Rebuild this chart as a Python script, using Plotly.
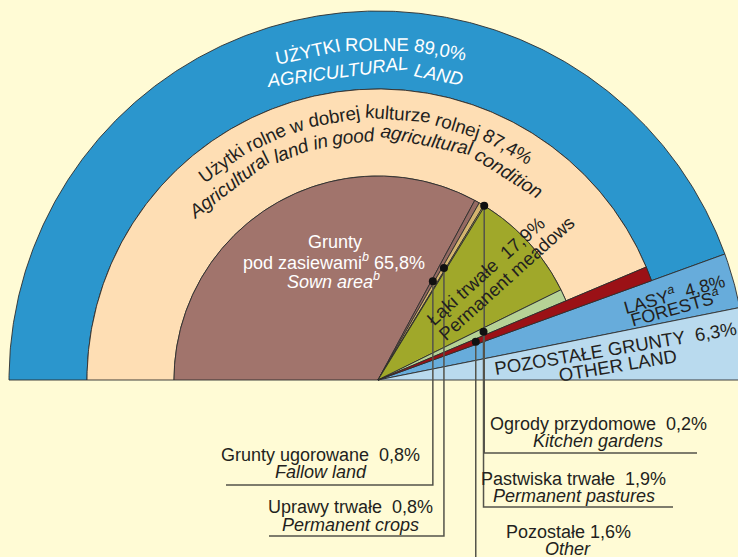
import math
import plotly.graph_objects as go

# ---------------- data ----------------
outer_labels = ["Użytki rolne", "Lasy", "Pozostałe grunty"]
outer_values = [89.0, 4.8, 6.3]
good_condition_value = 87.4
inner_labels = ["Grunty pod zasiewami", "Grunty ugorowane", "Uprawy trwałe",
                "Ogrody przydomowe", "Łąki trwałe", "Pastwiska trwałe", "Pozostałe"]
inner_values = [65.8, 0.8, 0.8, 0.2, 17.9, 1.9, 1.6]

# ---------------- geometry / style ----------------
CX, CY = 378, 380          # pixel centre of the half-pie
R_OUT, R_AG, R_IN = 369, 291, 204
BG = "#FFFBD5"
EDGE = "#2E2E2E"
FONT = "Liberation Sans, Arial, Helvetica, sans-serif"
INK = "#231F20"

outer_colors = ["#2B96CD", "#67ACDB", "#B9DAEE"]
good_color = "#FEDEB4"
inner_colors = ["#A1746C", "#946A62", "#D4B46E", "#C4BB58", "#A0A82A", "#B6D296", "#9B1116"]

K = 180.0 / sum(outer_values)


def px(x, y):
    return x - CX, CY - y


def sector(r0, r1, a0, a1):
    lo, hi = min(a0, a1), max(a0, a1)
    n = max(6, int((hi - lo) * 3))
    xs, ys = [], []
    for i in range(n + 1):
        t = math.radians(lo + (hi - lo) * i / n)
        xs.append(r1 * math.cos(t)); ys.append(r1 * math.sin(t))
    if r0 > 0:
        for i in range(n, -1, -1):
            t = math.radians(lo + (hi - lo) * i / n)
            xs.append(r0 * math.cos(t)); ys.append(r0 * math.sin(t))
    else:
        xs.append(0); ys.append(0)
    xs.append(xs[0]); ys.append(ys[0])
    return xs, ys


fig = go.Figure()


def add_sector(r0, r1, a0, a1, color, name):
    xs, ys = sector(r0, r1, a0, a1)
    fig.add_trace(go.Scatter(x=xs, y=ys, mode="lines", fill="toself", fillcolor=color,
                             line=dict(color=EDGE, width=0.9), name=name,
                             hoverinfo="name", showlegend=False))


# outer level
a_agri_end = 180 - outer_values[0] * K
a_for_end = a_agri_end - outer_values[1] * K
a_good_end = 180 - good_condition_value * K
add_sector(R_AG, R_OUT, a_agri_end, 180, outer_colors[0], outer_labels[0])
add_sector(0, R_OUT, a_for_end, a_agri_end, outer_colors[1], outer_labels[1])
add_sector(0, R_OUT, a_for_end - outer_values[2] * K, a_for_end, outer_colors[2], outer_labels[2])
add_sector(R_IN, R_AG, a_good_end, 180, good_color, "Użytki rolne w dobrej kulturze rolnej")

# inner level
inner_angles = []
a = 180.0
for lab, v, col in zip(inner_labels, inner_values, inner_colors):
    a1 = a - v * K
    r = R_AG if lab == "Pozostałe" else R_IN
    add_sector(0, r, a1, a, col, lab)
    inner_angles.append((a1 + a) / 2)
    a = a1

# ---------------- leader lines ----------------
LINE = "#54534A"
# (inner index, dot radius, corner y px, far end x px)
leaders = [
    (1, 113, 485, 226),
    (2, 130, 536, 269),
    (3, 204, 453, 697),
    (5, 116, 507, 673),
    (6, 105, 575, None),
]
dots_x, dots_y = [], []
for idx, rr, ypx, xend in leaders:
    t = math.radians(inner_angles[idx])
    dx, dy = rr * math.cos(t), rr * math.sin(t)
    dots_x.append(dx); dots_y.append(dy)
    yy = CY - ypx
    xs = [dx, dx]
    ys = [dy, yy]
    if xend is not None:
        xs.append(xend - CX); ys.append(yy)
    fig.add_trace(go.Scatter(x=xs, y=ys, mode="lines", line=dict(color=LINE, width=1.5),
                             hoverinfo="skip", showlegend=False))
fig.add_trace(go.Scatter(x=dots_x, y=dots_y, mode="markers",
                         marker=dict(color="#111111", size=8), hoverinfo="skip", showlegend=False))

# ---------------- text ----------------
W = {' ': 278, '%': 889, ',': 278, '.': 278,
     'A': 667, 'B': 667, 'C': 722, 'D': 722, 'E': 667, 'F': 611, 'G': 778, 'H': 722, 'I': 278,
     'J': 500, 'K': 667, 'L': 556, 'M': 833, 'N': 722, 'O': 778, 'P': 667, 'Q': 778, 'R': 722,
     'S': 667, 'T': 611, 'U': 722, 'V': 667, 'W': 944, 'X': 667, 'Y': 667, 'Z': 611, 'Ż': 611,
     'Ł': 556, 'a': 556, 'b': 556, 'c': 500, 'd': 556, 'e': 556, 'f': 278, 'g': 556, 'h': 556,
     'i': 222, 'j': 222, 'k': 500, 'l': 222, 'm': 833, 'n': 556, 'o': 556, 'p': 556, 'q': 556,
     'r': 333, 's': 500, 't': 278, 'u': 556, 'v': 500, 'w': 722, 'x': 500, 'y': 500, 'z': 500,
     'ż': 500, 'ł': 222, 'ą': 556}


def tw(s, size):
    return sum(W.get(c, 556) for c in s) * size / 1000.0


annotations = []


def ann(x, y, text, size=18, color=INK, angle=0):
    X, Y = px(x, y)
    annotations.append(dict(x=X, y=Y, xref="x", yref="y", text=text, showarrow=False,
                            textangle=angle, xanchor="center", yanchor="middle",
                            font=dict(family=FONT, size=size, color=color)))


def arc_text(text, r, theta_c, size, color, italic=False):
    parts = text.split(' ')
    sp = tw(' ', size)
    total = tw(text, size)
    s = 0.0
    for p in parts:
        if p == '':
            s += sp
            continue
        w = tw(p, size)
        mid = s + w / 2
        th = theta_c + math.degrees((total / 2 - mid) / r)
        t = math.radians(th)
        txt = f"<i>{p}</i>" if italic else p
        annotations.append(dict(x=r * math.cos(t), y=r * math.sin(t), xref="x", yref="y",
                                text=txt, showarrow=False, textangle=90 - th,
                                xanchor="center", yanchor="middle",
                                font=dict(family=FONT, size=size, color=color)))
        s += w + sp


arc_text("UŻYTKI ROLNE 89,0%", 336, 91.3, 18.5, "white")
arc_text("AGRICULTURAL LAND", 311, 92.4, 18.5, "white", italic=True)
arc_text("Użytki rolne w dobrej kulturze rolnej 87,4%", 267, 93.3, 18.8, INK)
arc_text("Agricultural land in good agricultural condition", 245, 93.5, 19, INK, italic=True)

NB = "\u00a0"
ann(335, 242, "Grunty", color="white")
ann(334, 261, "pod zasiewami<sup><i>b</i></sup> 65,8%", color="white")
ann(333, 280, "<i>Sown area</i><sup><i>b</i></sup>", color="white")

ann(485, 271, f"Łąki trwałe {NB}17,9%", size=18.5, angle=-42)
ann(506, 278, "Permanent meadows", size=18.5, angle=-42)

ann(674, 293, f"LASY<sup><i>a</i></sup>{NB} 4,8%", angle=-15.5)
ann(675, 307, "FORESTS<sup><i>a</i></sup>", angle=-15.5)

ann(615, 348, f"POZOSTAŁE GRUNTY {NB}6,3%", size=18.5, angle=-9.5)
ann(617, 365, "OTHER LAND", size=18.5, angle=-9.5)

ann(320, 455, f"Grunty ugorowane {NB}0,8%")
ann(321, 472, "<i>Fallow land</i>")
ann(350, 507, f"Uprawy trwałe {NB}0,8%")
ann(350, 525, "<i>Permanent crops</i>")
ann(598, 424, f"Ogrody przydomowe {NB}0,2%")
ann(598, 441, "<i>Kitchen gardens</i>")
ann(573, 479, f"Pastwiska trwałe {NB}1,9%")
ann(574, 496, "<i>Permanent pastures</i>")
ann(568, 532, "Pozostałe 1,6%")
ann(568, 549, "<i>Other</i>")

fig.update_layout(
    width=738, height=557, margin=dict(l=0, r=0, t=0, b=0),
    paper_bgcolor=BG, plot_bgcolor=BG, showlegend=False,
    xaxis=dict(range=[-CX, 738 - CX], visible=False, fixedrange=True),
    yaxis=dict(range=[CY - 557, CY], visible=False, fixedrange=True),
    annotations=annotations,
)

fig.write_html("out.html", config={"displayModeBar": False},
               post_script="document.body.style.margin='0';"
                           "document.body.style.background='#FFFBD5';"
                           "document.body.style.overflow='hidden';")
